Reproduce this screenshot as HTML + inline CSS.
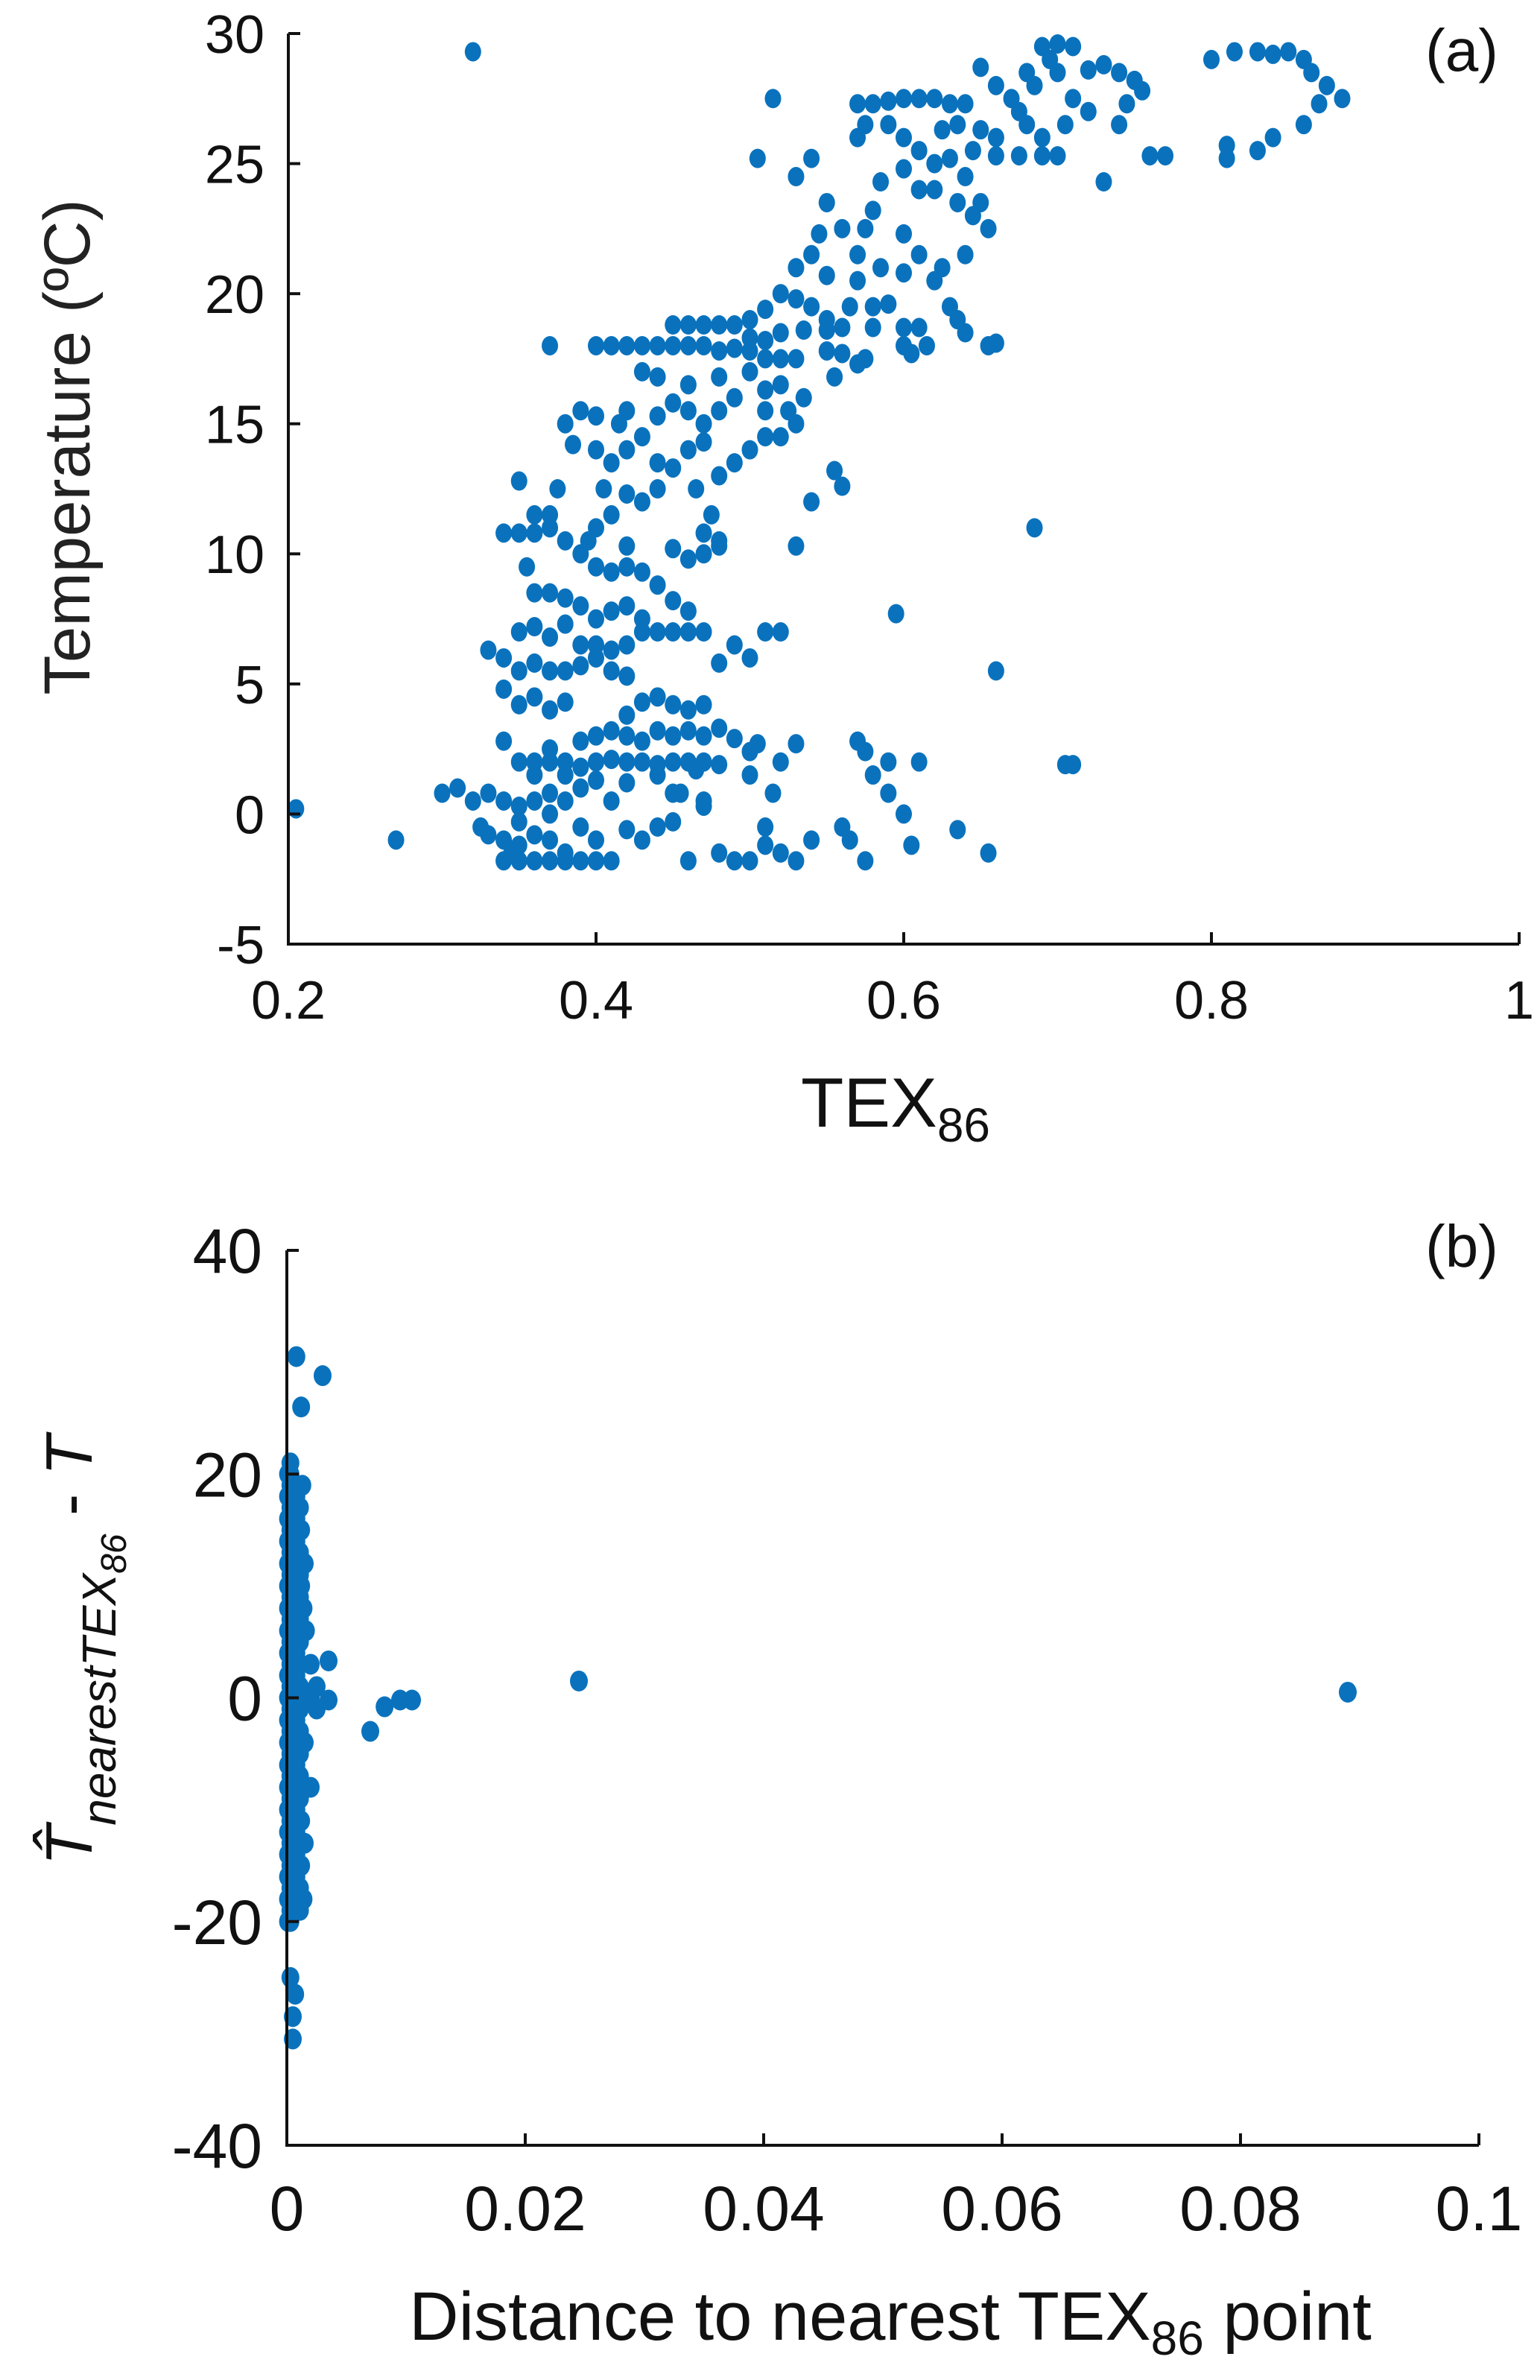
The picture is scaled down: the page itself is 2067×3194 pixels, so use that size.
<!DOCTYPE html>
<html>
<head>
<meta charset="utf-8">
<style>
html,body{margin:0;padding:0;background:#fff;}
svg{display:block;font-family:"Liberation Sans",Arial,sans-serif;}
</style>
</head>
<body>
<svg id="fig" width="2067" height="3194" viewBox="0 0 2067 3194" xmlns="http://www.w3.org/2000/svg">
  <g id="panelA"></g>
  <g id="panelB"></g>
  <text x="1962" y="95" font-size="80" text-anchor="middle" fill="#111">(a)</text>
  <text x="1962" y="1700" font-size="80" text-anchor="middle" fill="#111">(b)</text>
  <text transform="translate(120,600) rotate(-90)" font-size="87" text-anchor="middle" fill="#222">Temperature (ºC)</text>
  <text x="1202" y="1512" font-size="94" text-anchor="middle" fill="#111">TEX<tspan font-size="64" dy="20">86</tspan></text>
  <text transform="translate(123,2215) rotate(-90)" font-size="88" text-anchor="middle" fill="#111" font-style="italic">T&#770;<tspan font-size="64" dy="32">nearestTEX</tspan><tspan font-size="48" dy="14">86</tspan><tspan font-size="88" dy="-46" font-style="normal"> - </tspan>T</text>
  <text x="1195" y="3140" font-size="92" text-anchor="middle" fill="#111">Distance to nearest TEX<tspan font-size="64" dy="20">86</tspan><tspan dy="-20"> point</tspan></text>
</svg>
<script>
// ---- Panel (a) data ----
const aTicksX = [0.2,0.4,0.6,0.8,1];
const aTickLabelsX = ["0.2","0.4","0.6","0.8","1"];
const aTicksY = [-5,0,5,10,15,20,25,30];
const aTickLabelsY = ["-5","0","5","10","15","20","25","30"];
const aTex = [
0.32,0.205,0.27,0.685,0.66,0.595,0.71,0.705,0.53,0.505,0.515,
0.80,0.815,0.83,0.84,0.85,0.86,0.865,0.875,0.885,0.87,0.86,0.84,0.83,0.81,0.81,0.77,0.76,0.73,
0.69,0.70,0.71,0.695,0.68,0.65,0.66,0.67,0.675,0.685,0.70,0.72,0.73,0.74,0.75,0.755,0.745,0.74,0.72,0.71,0.705,0.69,0.68,0.66,0.65,0.645,0.66,0.675,0.69,0.70,0.64,0.63,0.62,0.61,0.60,0.59,0.58,0.57,0.575,0.57,0.59,0.60,0.61,0.625,0.635,0.64,0.63,0.62,0.62,0.635,0.645,0.65,0.655,0.64,0.61,0.60,0.585,0.58,0.575,0.57,0.585,0.60,0.61,0.62,0.63,0.625,0.60,0.59,0.58,0.635,0.64,0.655,0.66,
0.54,0.53,0.55,0.545,0.56,0.54,0.53,0.55,0.57,0.565,0.55,0.54,0.53,0.52,0.51,0.50,0.49,0.48,0.47,0.46,0.45,0.52,0.535,0.55,0.56,0.58,0.60,0.61,0.615,0.5,0.51,
0.37,0.40,0.41,0.42,0.43,0.44,0.45,0.46,0.47,0.48,0.49,0.5,0.51,0.52,0.53,0.56,0.57,0.6,0.605,0.575,0.55,
0.43,0.44,0.46,0.48,0.5,0.51,0.52,0.535,0.555,0.525,0.53,0.52,0.51,0.49,0.48,0.47,0.46,0.45,0.44,0.42,0.415,0.40,0.39,0.38,0.385,0.40,0.41,0.42,0.43,0.44,0.45,0.46,0.47,0.48,0.49,0.5,0.51,0.465,0.475,0.44,0.43,0.42,0.41,0.40,0.395,0.405,0.35,0.36,0.37,0.375,0.555,0.56,0.54,0.47,0.48,
0.34,0.35,0.36,0.37,0.38,0.39,0.40,0.41,0.42,0.43,0.42,0.45,0.46,0.47,0.48,0.355,0.36,0.37,0.38,0.39,0.40,0.41,0.42,0.43,0.44,0.45,0.46,0.38,0.39,0.40,0.41,0.42,0.43,0.44,0.45,0.46,0.47,0.35,0.36,0.37,0.33,0.34,0.35,0.36,0.37,0.38,0.39,0.40,0.41,0.42,0.44,0.45,0.46,0.47,0.48,0.49,0.50,0.51,0.52,0.36,0.37,0.38,0.35,0.34,0.43,0.42,
0.34,0.37,0.39,0.40,0.41,0.42,0.43,0.44,0.45,0.46,0.47,0.48,0.49,0.35,0.36,0.37,0.38,0.39,0.40,0.41,0.42,0.43,0.44,0.45,0.46,0.47,0.48,0.36,0.38,0.40,0.42,0.44,0.465,0.37,0.38,0.39,0.41,0.45,0.47,0.50,0.515,0.52,0.57,0.575,0.59,0.61,0.58,0.50,0.505,0.53,
0.3,0.31,0.32,0.33,0.34,0.35,0.36,0.37,0.35,0.325,0.33,0.34,0.35,0.36,0.37,0.38,0.39,0.40,0.345,0.34,0.35,0.36,0.37,0.38,0.39,0.40,0.41,0.43,0.44,0.45,0.46,0.47,0.48,0.49,0.50,0.51,0.52,0.53,0.54,0.56,0.565,0.575,0.59,0.6,0.605,0.635,0.655,0.51,0.42,0.455
];
const aTemp = [
29.3,0.2,-1,11,5.5,7.7,1.9,1.9,10.3,25.2,27.5,
29,29.3,29.3,29.2,29.3,29,28.5,28,27.5,27.3,26.5,26,25.5,25.7,25.2,25.3,25.3,24.3,
29.5,29.6,29.5,29,28.5,28.7,28,27.5,27,28,28.5,28.6,28.8,28.5,28.2,27.8,27.3,26.5,27,27.5,26.5,26,26.5,26,26.3,25.5,25.3,25.3,25.3,25.3,27.3,27.3,27.5,27.5,27.5,27.4,27.3,27.3,26.5,26,26.5,26,25.5,26.3,26.5,24.5,25.2,25,24,23.5,23,23.5,22.5,21.5,24,24.8,24.3,23.2,22.5,21.5,21,22.3,21.5,20.5,19.5,21,20.8,19.6,19.5,19,18.5,18,18.1,
25.2,24.5,23.5,22.3,22.5,21.5,21,20.7,20.5,19.5,19,19.5,19.8,20,19.4,19,18.8,18.8,18.8,18.8,18.8,18.5,18.6,18.6,18.7,18.7,18.7,18.7,18,18.3,18.2,
18,18,18,18,18,18,18,18,18,17.8,17.9,17.8,17.5,17.5,17.5,17.7,17.3,18,17.7,17.5,17.8,
17,16.8,16.5,16.8,17,16.3,16.5,16,16.8,15.5,15,14.5,15.5,16,15.5,15,15.5,15.8,15.3,15.5,15,15.3,15.5,15,14.2,14,13.5,14,14.5,13.5,13.3,14,14.3,13,13.5,14,14.5,12.5,11.5,12.5,12,12.3,11.5,11,10.5,12.5,12.8,11.5,11.5,12.5,13.2,12.6,12,10.8,10.3,
10.8,10.8,10.8,11,10.5,10,9.5,9.3,9.5,9.3,10.3,10.2,9.8,10,10.5,9.5,8.5,8.5,8.3,8,7.5,7.8,8,7.5,8.8,8.2,7.8,7.3,6.5,6.5,6.3,6.5,7,7,7,7,7,7,7.2,6.8,6.3,6,5.5,5.8,5.5,5.5,5.7,6,5.5,5.3,4.5,4.2,4,4.2,5.8,6.5,6,7,7,4.5,4,4.3,4.2,4.8,4.3,3.8,
2.8,2.5,2.8,3,3.2,3,2.8,3.2,3,3.2,3,3.3,2.9,2,2,2,2,1.8,2,2.1,2,2,1.9,2,2,2,1.9,1.5,1.5,1.3,1.2,1.5,1.7,0.8,0.5,1,0.5,0.8,0.5,1.5,0.8,2,2.8,2.4,2,2,1.5,2.4,2.7,2.7,
0.8,1,0.5,0.8,0.5,0.3,0.5,0,-0.3,-0.5,-0.8,-1,-1.2,-0.8,-1,-1.5,-0.5,-1,-1.5,-1.8,-1.8,-1.8,-1.8,-1.8,-1.8,-1.8,-1.8,-1,-0.5,-0.3,-1.8,0.3,-1.5,-1.8,-1.8,-1.2,-1.5,-1.8,-1,-0.5,-1,-1.8,0.8,0,-1.2,-0.6,-1.5,-0.5,-0.6,0.8
];
// ---- Panel (b) data ----
const bTicksX = [0,0.02,0.04,0.06,0.08,0.1];
const bTickLabelsX = ["0","0.02","0.04","0.06","0.08","0.1"];
const bTicksY = [-40,-20,0,20,40];
const bTickLabelsY = ["-40","-20","0","20","40"];
const bDist = [
0.0245,0.089,0.0105,0.0095,0.0082,0.007,0.0035,0.0035,0.003,0.0012,0.0008,0.0015,0.0005,0.0005,0.0003,0.0007,
0.0003,0.0003,0.0003,0.0003,0.0003,0.0003,0.0003,0.0003,0.0003,0.0003,0.0003,0.0003,0.0003,0.0003,0.0003,0.0003,0.0003,0.0003,0.0003,0.0003,0.0003,0.0003,0.0003,0.0003,0.0003,0.0003,0.0003,0.0003,0.0003,0.0003,0.0003,0.0003,0.0003,0.0003,0.0003,0.0003,0.0003,0.0003,0.0003,0.0003,0.0003,0.0003,
0.0008,0.0008,0.0008,0.0008,0.0008,0.0008,0.0008,0.0008,0.0008,0.0008,0.0008,0.0008,0.0008,0.0008,0.0008,0.0008,0.0008,0.0008,0.0008,
0.0013,0.0012,0.0015,0.0012,0.0014,0.0016,0.002,0.0025,0.002,0.0025,0.0015,0.002,0.0012,0.0012,0.0014,0.001,
0.0001,0.0001,0.0001,0.0001,0.0001,0.0001,0.0001,0.0001,0.0001,0.0001,0.0001,0.0001,0.0001,0.0001,0.0001,0.0001,0.0001,0.0001,0.0001,0.0001,0.0001,
0.0011,0.0011,0.0011,0.0011,0.0011,0.0011,0.0011,0.0011,0.0011,0.0011,0.0011,0.0011,0.0011,0.0011,0.0011,0.0011,0.0011,0.0011,
0.0006,0.0006,0.0006,0.0006,0.0006,0.0006,0.0006,0.0006,0.0006,0.0006,0.0006,0.0006,0.0006,0.0006,0.0006,0.0006,0.0006,0.0006,0.0006,0.0006
];
const bDiff = [
1.5,0.5,-0.2,-0.2,-0.8,-3,-0.2,3.3,28.8,26,30.5,-13,-28.5,-30.5,-25,-26.5,
21,20,19,18,17,16,15,14,13,12,11,10,9,8,7,6,5,4,3,2,1,0,-1,-2,-3,-4,-5,-6,-7,-8,-9,-10,-11,-12,-13,-14,-15,-16,-17,-18,-19,-20,
18,16,14,12,10,8,6,4,2,0,-2,-4,-6,-8,-10,-12,-14,-16,-18,
19,15,12,10,8,6,3,1,0,-1,-4,-8,-11,-15,-18,5,
20,18,16,14,12,10,8,6,4,2,0,-2,-4,-6,-8,-10,-12,-14,-16,-18,-20,
17,13,11,9,7,5,3,1,-1,-3,-5,-7,-9,-11,-13,-15,-17,-19,
19,17,15,13,11,9,7,5,3,1,-1,-3,-5,-7,-9,-11,-13,-15,-17,-19
];

const NS = "http://www.w3.org/2000/svg";
const COLOR = "#0a72bd";

function mk(parent, tag, attrs) {
  const e = document.createElementNS(NS, tag);
  for (const k in attrs) e.setAttribute(k, attrs[k]);
  parent.appendChild(e);
  return e;
}

function drawPanel(g, cfg) {
  const sx = v => cfg.left + (v - cfg.x0) / (cfg.x1 - cfg.x0) * (cfg.right - cfg.left);
  const sy = v => cfg.bottom - (v - cfg.y0) / (cfg.y1 - cfg.y0) * (cfg.bottom - cfg.top);
  for (let i = 0; i < cfg.xs.length; i++) {
    const c = mk(g, "ellipse", {cx: sx(cfg.xs[i]), cy: sy(cfg.ys[i]), rx: cfg.rx, ry: cfg.ry, fill: COLOR});
    
    
  }
  const ax = mk(g, "path", {d: `M${cfg.left},${cfg.top} L${cfg.left},${cfg.bottom} L${cfg.right},${cfg.bottom}`, stroke: "#111", "stroke-width": 4, fill: "none"});
  
  
  cfg.ticksX.forEach((t, i) => {
    const x = sx(t);
    const tk = mk(g, "line", {x1: x, x2: x, y1: cfg.bottom, y2: cfg.bottom - 16, stroke: "#111", "stroke-width": 4});
    
    
    const tl = mk(g, "text", {x: x, y: cfg.xLabelY, "font-size": cfg.fs, "text-anchor": "middle", fill: "#111"});
    tl.textContent = cfg.labelsX[i];
    
    
  });
  cfg.ticksY.forEach((t, i) => {
    const y = sy(t);
    const tk = mk(g, "line", {x1: cfg.left, x2: cfg.left + 16, y1: y, y2: y, stroke: "#111", "stroke-width": 4});
    
    
    const tl = mk(g, "text", {x: cfg.yLabelX, y: y + cfg.fs * 0.36, "font-size": cfg.fs, "text-anchor": "end", fill: "#111"});
    tl.textContent = cfg.labelsY[i];
    
    
  });
}

drawPanel(document.getElementById("panelA"), {
  left: 387, right: 2039, top: 45, bottom: 1267,
  x0: 0.2, x1: 1, y0: -5, y1: 30,
  xs: aTex, ys: aTemp, rx: 11, ry: 13,
  ticksX: aTicksX, labelsX: aTickLabelsX, ticksY: aTicksY, labelsY: aTickLabelsY,
  fs: 72, xLabelY: 1367, yLabelX: 355
});
drawPanel(document.getElementById("panelB"), {
  left: 385, right: 1985, top: 1678, bottom: 2879,
  x0: 0, x1: 0.1, y0: -40, y1: 40,
  xs: bDist, ys: bDiff, rx: 12, ry: 14,
  ticksX: bTicksX, labelsX: bTickLabelsX, ticksY: bTicksY, labelsY: bTickLabelsY,
  fs: 84, xLabelY: 2993, yLabelX: 352
});
</script>
</body>
</html>
